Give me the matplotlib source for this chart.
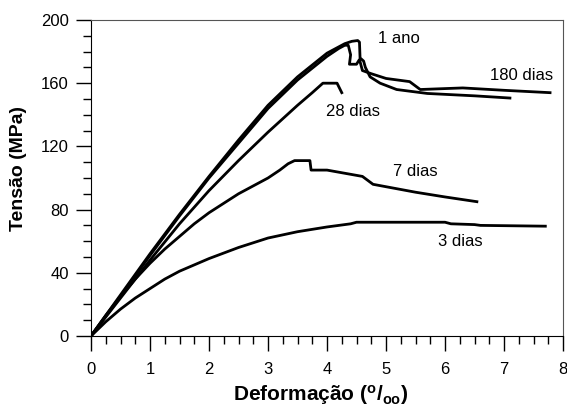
import matplotlib.pyplot as plt
from matplotlib.ticker import MultipleLocator

plt.rcParams.update({
    'font.family': 'Liberation Sans',
    'mathtext.fontset': 'custom',
    'mathtext.rm': 'Liberation Sans',
    'mathtext.bf': 'Liberation Sans:bold',
})

# stress-strain curves (strain in per mille, stress in MPa)
x_1ano = [0, 0.5, 1, 1.5, 2, 2.5, 3, 3.5, 3.8, 4, 4.2, 4.3, 4.42, 4.52, 4.55, 4.56, 4.62, 4.65, 4.73, 4.9, 5.18, 5.7, 6.5, 7.1]
y_1ano = [0, 26, 52, 77, 101, 124, 146, 164, 173, 179, 183, 185, 186.5, 187, 186, 176, 174, 170, 164, 160, 156, 153.5, 152, 150.6]

x_180 = [0, 0.5, 1, 1.5, 2, 2.5, 3, 3.5, 3.8, 4, 4.2, 4.3, 4.36, 4.4, 4.38, 4.5, 4.55, 4.6, 4.75, 5.0, 5.4, 5.58, 6.3, 7.0, 7.78]
y_180 = [0, 25, 51, 76, 100, 122, 144, 162, 171, 177, 182, 184, 184, 178, 172, 172, 175, 168, 166, 163, 161, 156, 157, 155.5, 154]

x_28 = [0, 0.5, 1, 1.5, 2, 2.5, 3, 3.5, 3.75, 3.93, 4.17, 4.25]
y_28 = [0, 24, 48, 71, 92, 111, 129, 146, 154, 160, 160, 154]

x_7 = [0, 0.25, 0.5, 0.75, 1, 1.25, 1.5, 1.75, 2, 2.25, 2.5, 2.75, 3, 3.2, 3.34, 3.45, 3.71, 3.73, 4.0, 4.6, 4.78, 5.5, 6.0, 6.54]
y_7 = [0, 13, 25, 36, 46, 55, 63, 71, 78, 84, 90, 95, 100, 105, 109, 111, 111, 105, 105, 101, 96, 91, 88, 85]

x_3 = [0, 0.25, 0.5, 0.75, 1, 1.25, 1.5, 1.75, 2, 2.5, 3, 3.5, 4, 4.4, 4.5, 6.0, 6.1, 6.5, 6.6, 7.7]
y_3 = [0, 9, 17, 24, 30, 36, 41, 45, 49, 56, 62, 66, 69, 71, 72, 72, 71, 70.5, 70, 69.5]

labels = ['1 ano', '180 dias', '28 dias', '7 dias', '3 dias']
label_xy = [(4.86, 188), (6.76, 165), (3.98, 142), (5.12, 104), (5.88, 59.5)]

fig = plt.figure(figsize=(5.67, 4.08), dpi=100)
ax = fig.add_axes([0.1605, 0.1765, 0.8325, 0.7745])

for xs, ys in [(x_1ano, y_1ano), (x_180, y_180), (x_28, y_28), (x_7, y_7), (x_3, y_3)]:
    ax.plot(xs, ys, color='black', linewidth=2.0)

for lab, (lx, ly) in zip(labels, label_xy):
    ax.text(lx, ly, lab, fontsize=12, ha='left', va='center')

ax.set_xlim(0, 8)
ax.set_ylim(0, 200)
ax.xaxis.set_major_locator(MultipleLocator(1))
ax.xaxis.set_minor_locator(MultipleLocator(0.25))
ax.yaxis.set_major_locator(MultipleLocator(40))
ax.yaxis.set_minor_locator(MultipleLocator(10))
ax.tick_params(which='major', direction='out', length=11, width=1, labelsize=12)
ax.tick_params(axis='x', which='major', pad=8)
ax.tick_params(axis='y', which='major', pad=5)
ax.tick_params(which='minor', direction='out', length=6, width=1)
ax.tick_params(top=False, right=False)

for s in ['top', 'right']:
    ax.spines[s].set_color('#555555')
    ax.spines[s].set_linewidth(0.8)

ax.set_xlabel(r'Deformação ($\mathbf{^o/_{oo}}$)', fontsize=15, fontweight='bold', labelpad=2)
ax.set_ylabel('Tensão (MPa)', fontsize=14, fontweight='bold')
ax.xaxis.set_label_coords(0.487, -0.15)
ax.yaxis.set_label_coords(-0.135, 0.53)

fig.savefig('out.png', dpi=100)
